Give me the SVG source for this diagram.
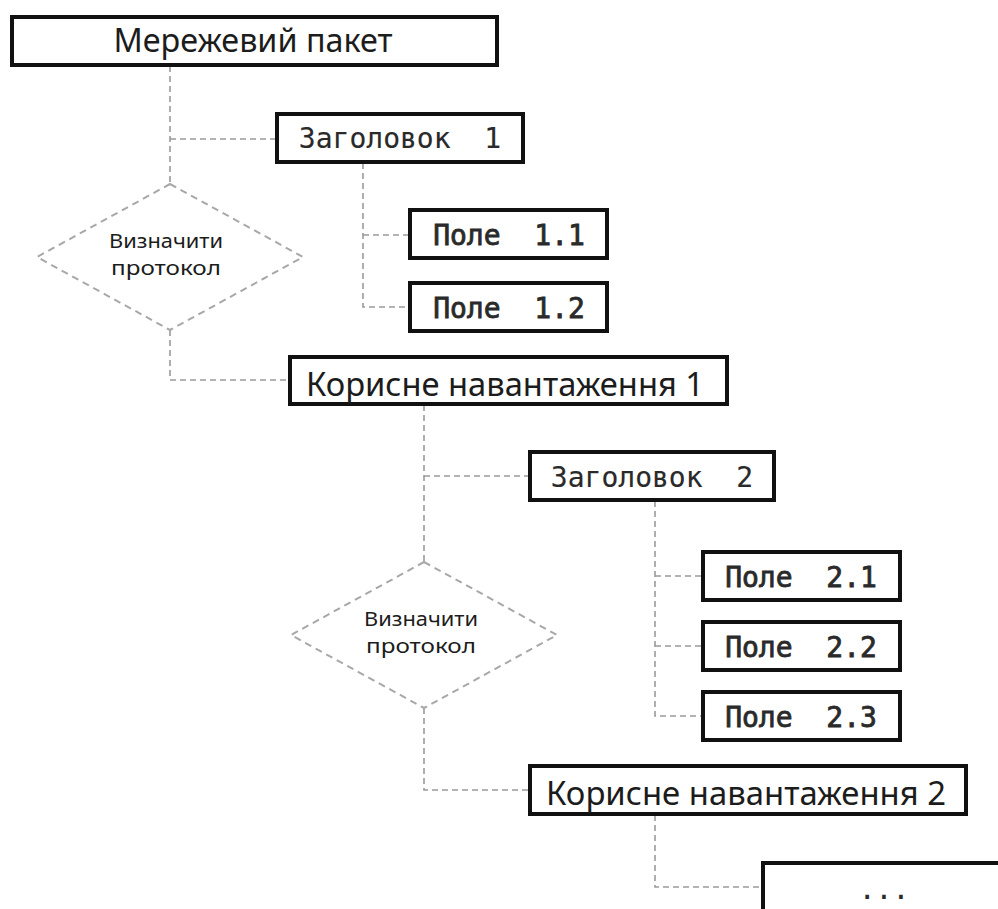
<svg xmlns="http://www.w3.org/2000/svg" width="998" height="909" viewBox="0 0 998 909">
  <style>
    .box { fill: #ffffff; stroke: #111111; stroke-width: 4; }
    .dia { fill: none; stroke: #a8a8a8; stroke-width: 2; stroke-dasharray: 7 5; }
    .link { fill: none; stroke: #9a9a9a; stroke-width: 1.6; stroke-dasharray: 6 4; }
    .sans { font-family: "Noto Sans", "Open Sans", sans-serif; fill: #1c1c1c; text-anchor: middle; }
    .big { font-size: 32px; }
    .small { font-size: 19px; }
    .mono { font-family: "DejaVu Sans Mono", "Liberation Mono", monospace; font-size: 28px; fill: #2a2a2a; text-anchor: middle; stroke: #2a2a2a; stroke-width: 0.15; }
    .heavy { stroke-width: 0.8; }
  </style>

  <!-- dashed connectors -->
  <g id="connectors">
    <polyline class="link" points="170,66 170,184"/>
    <polyline class="link" points="170,139 277,139"/>
    <polyline class="link" points="363,163 363,307 410,307"/>
    <polyline class="link" points="363,235 410,235"/>
    <polyline class="link" points="170,330 170,380 290,380"/>
    <polyline class="link" points="424,405 424,562"/>
    <polyline class="link" points="424,476 530,476"/>
    <polyline class="link" points="655,501 655,716 703,716"/>
    <polyline class="link" points="655,576 703,576"/>
    <polyline class="link" points="655,646 703,646"/>
    <polyline class="link" points="424,708 424,790 530,790"/>
    <polyline class="link" points="655,815 655,887 763,887"/>
  </g>

  <g id="packet">
    <rect class="box" x="12" y="17" width="485" height="48"/>
    <text class="sans big" x="253" y="52" textLength="279" lengthAdjust="spacingAndGlyphs">Мережевий пакет</text>
  </g>

  <g id="header1">
    <rect class="box" x="277" y="114" width="246" height="48"/>
    <text class="mono" x="400" y="148" xml:space="preserve">Заголовок  1</text>
  </g>

  <g id="field11">
    <rect class="box" x="410" y="210" width="197" height="48"/>
    <text class="mono heavy" x="509" y="245" xml:space="preserve">Поле  1.1</text>
  </g>

  <g id="field12">
    <rect class="box" x="410" y="283" width="197" height="48"/>
    <text class="mono heavy" x="509" y="318" xml:space="preserve">Поле  1.2</text>
  </g>

  <g id="decide1">
    <polygon class="dia" points="170,184 303,257 170,330 37,257"/>
    <text class="sans small" x="166" y="248" textLength="114" lengthAdjust="spacingAndGlyphs">Визначити</text>
    <text class="sans small" x="166" y="275" textLength="110" lengthAdjust="spacingAndGlyphs">протокол</text>
  </g>

  <g id="payload1">
    <rect class="box" x="290" y="357" width="437" height="47"/>
    <text class="sans big" x="505" y="396" textLength="398" lengthAdjust="spacingAndGlyphs">Корисне навантаження 1</text>
  </g>

  <g id="header2">
    <rect class="box" x="530" y="452" width="244" height="48"/>
    <text class="mono" x="652" y="487" xml:space="preserve">Заголовок  2</text>
  </g>

  <g id="field21">
    <rect class="box" x="703" y="552" width="197" height="48"/>
    <text class="mono heavy" x="801" y="587" xml:space="preserve">Поле  2.1</text>
  </g>

  <g id="field22">
    <rect class="box" x="703" y="622" width="197" height="48"/>
    <text class="mono heavy" x="801" y="657" xml:space="preserve">Поле  2.2</text>
  </g>

  <g id="field23">
    <rect class="box" x="703" y="692" width="197" height="48"/>
    <text class="mono heavy" x="801" y="727" xml:space="preserve">Поле  2.3</text>
  </g>

  <g id="decide2">
    <polygon class="dia" points="424,562 557,635 424,708 291,635"/>
    <text class="sans small" x="421" y="626" textLength="114" lengthAdjust="spacingAndGlyphs">Визначити</text>
    <text class="sans small" x="421" y="653" textLength="110" lengthAdjust="spacingAndGlyphs">протокол</text>
  </g>

  <g id="payload2">
    <rect class="box" x="530" y="766" width="436" height="48"/>
    <text class="sans big" x="746" y="805" textLength="400" lengthAdjust="spacingAndGlyphs">Корисне навантаження 2</text>
  </g>

  <g id="more">
    <rect class="box" x="763" y="863" width="260" height="60"/>
    <text class="mono" x="884" y="899">...</text>
  </g>
</svg>
